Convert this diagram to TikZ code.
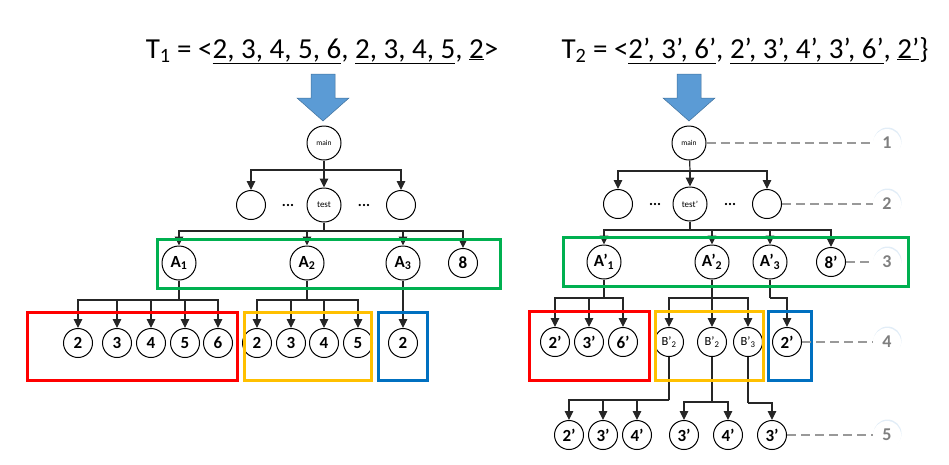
\documentclass[tikz,border=0pt]{standalone}
\usepackage{fontspec}
\setmainfont{Carlito}
\usetikzlibrary{arrows.meta,shadows}
\definecolor{arrblue}{HTML}{5B9BD5}
\definecolor{arredge}{HTML}{41719C}
\definecolor{boxred}{HTML}{FF0000}
\definecolor{boxamber}{HTML}{FFC000}
\definecolor{boxblue}{HTML}{0070C0}
\definecolor{boxgreen}{HTML}{00B050}
\definecolor{lvlgray}{HTML}{7F7F7F}
\tikzset{
  fn/.style={circle, draw=black, fill=white, line width=1pt, minimum size=29pt, inner sep=0pt, font=\fontsize{17}{17}\selectfont\bfseries},
  fnbig/.style={fn, minimum size=34pt},
  fnsmall/.style={font=\fontsize{7.5}{7.5}\selectfont},
  fntest/.style={font=\fontsize{9}{9}\selectfont},
  fnb/.style={fn, font=\fontsize{12.5}{12.5}\selectfont},
  arr/.style={-{Triangle[length=9pt,width=8.5pt]}, line width=1.2pt, color=black!85},
  ln/.style={line width=1.2pt, color=black!85},
  grp/.style={line width=3pt},
  ellip/.style={font=\fontsize{15}{15}\selectfont\bfseries, inner sep=0pt},
  lvl/.style={circle, fill=white, minimum size=28pt, inner sep=0pt, text=lvlgray, font=\fontsize{18}{18}\selectfont\bfseries,
    drop shadow={shadow xshift=0.5pt, shadow yshift=1.5pt, fill=arrblue!30, opacity=0.6}},
  lead/.style={dash pattern=on 9pt off 5pt, line width=1.3pt, color=lvlgray!80},
  bigarr/.style={fill=arrblue, draw=arredge, line width=0.5pt},
  ttl/.style={font=\fontsize{29}{31}\selectfont, anchor=base, inner sep=0pt},
}
\begin{document}
\begin{tikzpicture}[x=1pt, y=-1pt]
  \useasboundingbox (0,0) rectangle (949,464);
  % titles and the two big arrows
  \node[ttl] (t1) at (322,58) {T\textsubscript{1} = <\underline{2, 3, 4, 5, 6}, \underline{2, 3, 4, 5}, \underline{2}>};
  \node[ttl] (t2) at (745,58) {T\textsubscript{2} = <\underline{2’, 3’, 6’}, \underline{2’, 3’, 4’, 3’, 6’}, \underline{2’}\}};
  \foreach \tx in {323,689}
    \draw[bigarr] (\tx-12,74) -- (\tx+12,74) -- (\tx+12,98) -- (\tx+26,98) -- (\tx,121) -- (\tx-26,98) -- (\tx-12,98) -- cycle;

  % left tree
  \node[fnbig, fnsmall] (main) at (324,143) {main};
  \node[fn] (l2a) at (251,205) {};
  \node[fnbig, fntest] (test) at (324,205) {test};
  \node[fn] (l2c) at (401,205) {};
  \node[ellip] (d1) at (288,205) {...};
  \node[ellip] (d2) at (364,205) {...};
  \node[fnbig] (a1) at (179,263) {A\textsubscript{1}};
  \node[fnbig] (a2) at (307,263) {A\textsubscript{2}};
  \node[fnbig] (a3) at (403,263) {A\textsubscript{3}};
  \node[fn] (a8) at (463,263) {8};
  \foreach \n/\x/\t in {c1/78/2, c2/117/3, c3/151/4, c4/185/5, c5/218/6, c6/257/2, c7/291/3, c8/324/4, c9/358/5, c10/403/2}
    \node[fn] (\n) at (\x,343) {\t};

  \coordinate (j1) at (324,170);
  \coordinate (j2) at (324,231);
  \coordinate (j3) at (179,300);
  \coordinate (j4) at (307,300);
  \draw[ln] (main) -- (j1);
  \foreach \c in {l2a,test,l2c} \draw[arr] (j1) -| (\c);
  \draw[ln] (test) -- (j2);
  \foreach \c in {a1,a2,a3,a8} \draw[arr] (j2) -| (\c);
  \draw[ln] (a1) -- (j3);
  \foreach \c in {c1,c2,c3,c4,c5} \draw[arr] (j3) -| (\c);
  \draw[ln] (a2) -- (j4);
  \foreach \c in {c6,c7,c8,c9} \draw[arr] (j4) -| (\c);
  \draw[arr] (a3) -- (c10);

  \draw[grp, boxgreen] (157,239) rectangle (500,288);
  \draw[grp, boxred] (27,312) rectangle (237,380);
  \draw[grp, boxamber] (244,312) rectangle (371,380);
  \draw[grp, boxblue] (378,312) rectangle (427,380);

  % right tree
  \node[fnbig, fnsmall] (main2) at (689,143) {main};
  \node[fn] (r2a) at (618,204) {};
  \node[fnbig, fntest] (test2) at (690,204) {test’};
  \node[fn] (r2c) at (767,204) {};
  \node[ellip] (d3) at (655,204) {...};
  \node[ellip] (d4) at (730,204) {...};
  \node[fnbig] (ra1) at (604,262) {A’\textsubscript{1}};
  \node[fnbig] (ra2) at (712,262) {A’\textsubscript{2}};
  \node[fnbig] (ra3) at (770,262) {A’\textsubscript{3}};
  \node[fn] (ra8) at (831,262) {8'};
  \foreach \n/\x/\t in {p1/555/2', p2/589/3', p3/623/6', s1/787/2'}
    \node[fn] (\n) at (\x,342) {\t};
  \node[fnb] (q1) at (669,342) {B’\textsubscript{2}};
  \node[fnb] (q2) at (712,342) {B’\textsubscript{2}};
  \node[fnb] (q3) at (748,342) {B’\textsubscript{3}};
  \foreach \n/\x/\t in {u1/569/2', u2/603/3', u3/637/4', u4/684/3', u5/728/4', u6/772/3'}
    \node[fn] (\n) at (\x,435) {\t};

  \coordinate (k1) at (690,171);
  \coordinate (k2) at (690,230);
  \coordinate (k3) at (604,298);
  \coordinate (k4) at (712,298);
  \coordinate (k5) at (770,298);
  \coordinate (k6) at (669,400);
  \coordinate (k7) at (712,402);
  \coordinate (k8) at (748,403);
  \draw[ln] (main2) -- (k1);
  \foreach \c in {r2a,test2,r2c} \draw[arr] (k1) -| (\c);
  \draw[ln] (test2) -- (k2);
  \foreach \c in {ra1,ra2,ra3,ra8} \draw[arr] (k2) -| (\c);
  \draw[ln] (ra1) -- (k3);
  \foreach \c in {p1,p2,p3} \draw[arr] (k3) -| (\c);
  \draw[ln] (ra2) -- (k4);
  \foreach \c in {q1,q2,q3} \draw[arr] (k4) -| (\c);
  \draw[ln] (ra3) -- (k5);
  \draw[arr] (k5) -| (s1);
  \draw[ln] (q1) -- (k6);
  \foreach \c in {u1,u2,u3} \draw[arr] (k6) -| (\c);
  \draw[ln] (q2) -- (k7);
  \foreach \c in {u4,u5} \draw[arr] (k7) -| (\c);
  \draw[ln] (q3) -- (k8);
  \draw[arr] (k8) -| (u6);

  \draw[grp, boxgreen] (563,237) rectangle (908,286);
  \draw[grp, boxred] (529,311) rectangle (649,380);
  \draw[grp, boxamber] (655,311) rectangle (763,380);
  \draw[grp, boxblue] (768,311) rectangle (811,380);

  % level markers
  \node[lvl] (lv1) at (887,143) {1};
  \node[lvl] (lv2) at (887,204) {2};
  \node[lvl] (lv3) at (887,262) {3};
  \node[lvl] (lv4) at (887,342) {4};
  \node[lvl] (lv5) at (887,435) {5};
  \draw[lead] (main2) -- (lv1);
  \draw[lead] (r2c) -- (lv2);
  \draw[lead] (ra8) -- (lv3);
  \draw[lead] (s1) -- (lv4);
  \draw[lead] (u6) -- (lv5);
\end{tikzpicture}
\end{document}
